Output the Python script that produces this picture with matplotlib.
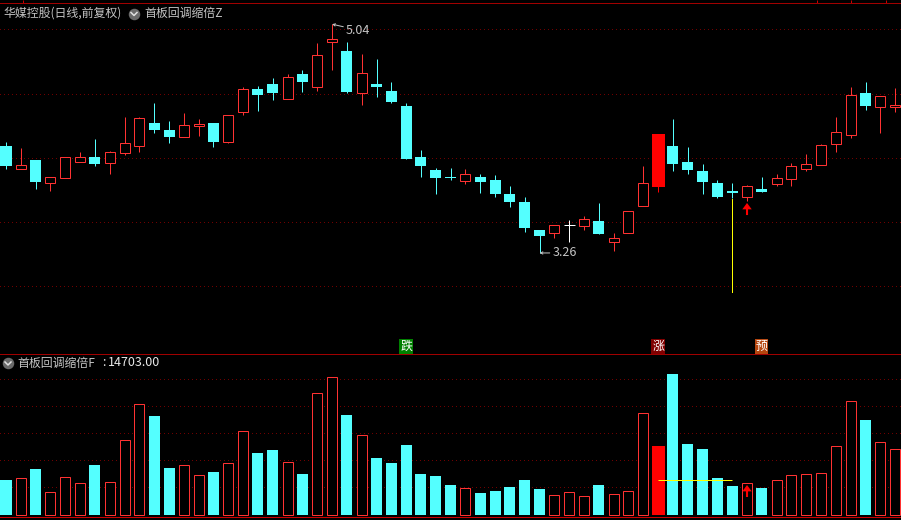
import matplotlib
matplotlib.use("Agg")
import matplotlib.pyplot as plt
import numpy as np

plt.rcParams["font.family"] = ["Noto Sans CJK SC", "DejaVu Sans"]

# values
highs = [4.123, 4.077, 3.983, 3.851, 4.007, 4.045, 4.147, 4.053, 4.318, 4.318,
         4.427, 4.287, 4.349, 4.302, 4.271, 4.331, 4.551, 4.559, 4.621, 4.652,
         4.683, 4.893, 5.04, 4.901, 4.808, 4.769, 4.590, 4.427, 4.061, 3.921,
         3.921, 3.913, 3.874, 3.867, 3.781, 3.695, 3.439, 3.475, 3.516, 3.548,
         3.649, 3.415, 3.584, 3.937, 4.186, 4.302, 4.084, 3.952, 3.828, 3.804,
         3.789, 3.851, 3.874, 3.960, 4.030, 4.108, 4.318, 4.551, 4.590, 4.479, 4.543]
lows = [3.913, 3.913, 3.758, 3.742, 3.846, 3.970, 3.937, 3.874, 4.022, 4.045,
        4.193, 4.115, 4.164, 4.170, 4.084, 4.115, 4.333, 4.364, 4.450, 4.460,
        4.512, 4.520, 4.683, 4.504, 4.411, 4.473, 4.427, 3.991, 3.851, 3.719,
        3.828, 3.796, 3.726, 3.695, 3.618, 3.423, 3.26, 3.376, 3.345, 3.439,
        3.408, 3.275, 3.418, 3.628, 3.734, 3.898, 3.874, 3.719, 3.688, 3.688,
        3.664, 3.734, 3.781, 3.781, 3.898, 3.947, 4.045, 4.154, 4.372, 4.193, 4.357]
opens = [4.092, 3.916, 3.983, 3.807, 3.846, 3.970, 4.007, 3.962, 4.040, 4.094,
         4.271, 4.217, 4.164, 4.248, 4.271, 4.126, 4.359, 4.536, 4.575, 4.460,
         4.652, 4.553, 4.904, 4.831, 4.507, 4.575, 4.520, 4.403, 4.007, 3.905,
         3.851, 3.822, 3.851, 3.828, 3.719, 3.656, 3.439, 3.418, 3.474, 3.472,
         3.509, 3.348, 3.418, 3.628, 3.773, 4.092, 3.968, 3.898, 3.804, 3.742,
         3.698, 3.758, 3.799, 3.838, 3.916, 3.947, 4.110, 4.180, 4.504, 4.398, 4.396]
closes = [3.937, 3.942, 3.812, 3.851, 4.007, 4.004, 3.952, 4.043, 4.113, 4.308,
          4.217, 4.162, 4.253, 4.263, 4.123, 4.331, 4.533, 4.489, 4.504, 4.627,
          4.590, 4.798, 4.922, 4.512, 4.658, 4.551, 4.434, 3.991, 3.937, 3.843,
          3.843, 3.872, 3.812, 3.719, 3.656, 3.454, 3.392, 3.475, 3.474, 3.522,
          3.408, 3.374, 3.584, 3.802, 4.186, 3.952, 3.905, 3.812, 3.695, 3.726,
          3.779, 3.734, 3.841, 3.934, 3.950, 4.098, 4.199, 4.487, 4.403, 4.479, 4.411]
volumes = [7836, 8209, 10299, 5075, 8433, 7090, 11195, 7314, 16717, 24777,
           22165, 10523, 11120, 8881, 9627, 11568, 18732, 13881, 14553, 11792,
           9180, 27240, 30822, 22389, 17837, 12762, 11642, 15672, 9180, 8732,
           6717, 5970, 4926, 5373, 6269, 7836, 5821, 4403, 5075, 4179,
           6717, 4627, 5299, 22762, 15448, 31568, 15896, 14777, 8284, 6493,
           7090, 6045, 7762, 8881, 9105, 9329, 15374, 25449, 21270, 16269, 14703]

price_levels = [3.0, 3.5, 4.0, 4.5, 5.0]
volume_levels = [6205, 12252, 18300, 24349, 30397]
month_marks = [1.15, 54.73, 57.03, 59.4]
limit_up_days = [44]
signal_day = 50
volume_line = (44, 49, 7773)
yellow_drop_price = 2.956
badges = [(27, "跌", "#008000"), (44, "涨", "#800000"), (51, "预", "#b5460f")]

RED = "#ff3232"
CYAN = "#54ffff"
GREY = "#c4c4c4"
FRAME = "#a00000"
GRID = "#700000"
W, H = 901, 520
PX = 0.72  # one pixel in points at dpi 100

fig = plt.figure(figsize=(W / 100, H / 100), dpi=100, facecolor="black")
ax_price = fig.add_axes([0, 1 - 354.3 / H, 1, 351 / H], facecolor="black")
ax_vol = fig.add_axes([0, 1 - 517.3 / H, 1, 163 / H], facecolor="black")

x = np.arange(len(closes))
for ax, levels in ((ax_price, price_levels), (ax_vol, volume_levels)):
    ax.set_xlim(-0.405, 60.39)
    ax.set_yticks(levels)
    ax.grid(axis="y", color=GRID, linewidth=PX, linestyle=(0, (0.5, 3.5)), antialiased=False)
    ax.set_axisbelow(True)
    ax.tick_params(left=False, labelleft=False, bottom=False, labelbottom=False)
    for side in ("left", "right"):
        ax.spines[side].set_visible(False)
    for side in ("top", "bottom"):
        ax.spines[side].set_color(FRAME)
        ax.spines[side].set_linewidth(PX)
ax_price.set_ylim(2.4716, 5.2023)
ax_vol.set_ylim(-515, 35997)
ax_vol.spines["bottom"].set_color("#c80000")

ax_price.set_xticks(month_marks)
ax_price.tick_params(axis="x", top=True, length=3 * PX, width=PX, color="#c80000")
ax_vol.set_xticks([])


def bar_style(i):
    if i in limit_up_days:
        return dict(width=0.879, color="#ff0000", linewidth=0)
    if closes[i] >= opens[i]:
        return dict(width=0.675, facecolor="black", edgecolor=RED, linewidth=PX)
    return dict(width=0.744, color=CYAN, linewidth=0)


# candles
for i in x:
    o, c = opens[i], closes[i]
    if o == c:
        wick = "white"
    elif c > o:
        wick = "#ff0000" if i in limit_up_days else RED
    else:
        wick = CYAN
    ax_price.vlines(i, lows[i], highs[i], color=wick, linewidth=PX, snap=True, zorder=2)
    if o == c:
        ax_price.hlines(o, i - 0.37, i + 0.37, color="white", linewidth=PX, snap=True, zorder=3)
    else:
        ax_price.bar(i, abs(c - o), bottom=min(o, c), zorder=3, **bar_style(i))

# volume bars
for i in x:
    ax_vol.bar(i, volumes[i], zorder=3, **bar_style(i))

# yellow markers
ax_price.vlines(49, yellow_drop_price, lows[49], color="#ffff00", linewidth=PX,
                linestyle=(0, (2, 1)), antialiased=False, snap=True, zorder=4)
ax_vol.hlines(volume_line[2], volume_line[0], volume_line[1], color="#ffff00",
              linewidth=PX, snap=True, zorder=5)

# red arrows under the signal day
arrow = dict(facecolor="#ff0000", edgecolor="none", width=1.5, headwidth=6.8, headlength=4.6, shrink=0)
ax_price.annotate("", xy=(signal_day, 3.649), xytext=(signal_day, 3.555), arrowprops=arrow, zorder=5)
ax_vol.annotate("", xy=(signal_day, 6720), xytext=(signal_day, 4032), arrowprops=arrow, zorder=5)

# high / low labels
ax_price.annotate("5.04", xy=(22, 5.04), xytext=(14, -6), textcoords="offset pixels",
                  color=GREY, fontsize=9, va="center", ha="left",
                  arrowprops=dict(arrowstyle="->", color=GREY, lw=PX, mutation_scale=4, shrinkA=0, shrinkB=0))
ax_price.annotate("3.26", xy=(36, 3.26), xytext=(13, 0), textcoords="offset pixels",
                  color=GREY, fontsize=9, va="center", ha="left",
                  arrowprops=dict(arrowstyle="->", color=GREY, lw=PX, mutation_scale=4, shrinkA=0, shrinkB=0))

# signal badges just above the lower panel
tr = ax_price.get_xaxis_transform()
for day, label, colour in badges:
    ax_price.text(day, 0.0225, label, transform=tr, color="white", fontsize=8.6, ha="center",
                  va="center", zorder=6,
                  bbox=dict(boxstyle="square,pad=0.06", facecolor=colour, edgecolor="none"))

# header texts and round icons, placed in figure pixels
overlay = fig.add_axes([0, 0, 1, 1], facecolor="none")
overlay.set_xlim(0, W)
overlay.set_ylim(H, 0)
overlay.axis("off")


def icon(cx, cy):
    overlay.plot(cx, cy, "o", color="#6a6a6a", markersize=11.5 * PX, markeredgewidth=0)
    overlay.plot([cx - 3, cx, cx + 3], [cy - 1, cy + 2, cy - 1], color="#e0e0e0", linewidth=1.1)


overlay.text(3, 13, "华媒控股(日线,前复权)", color=GREY, fontsize=8.6, va="center")
icon(134, 13.5)
overlay.text(144, 13, "首板回调缩倍Z", color=GREY, fontsize=8.6, va="center")
icon(8, 363)
overlay.text(17, 363, "首板回调缩倍F", color=GREY, fontsize=8.6, va="center")
overlay.text(102, 363, ":", color="#e8e8e8", fontsize=9, va="center")
overlay.text(108, 363, "14703.00", color="#e8e8e8", fontsize=9, va="center")

fig.savefig("out.png", dpi=100, facecolor="black")
